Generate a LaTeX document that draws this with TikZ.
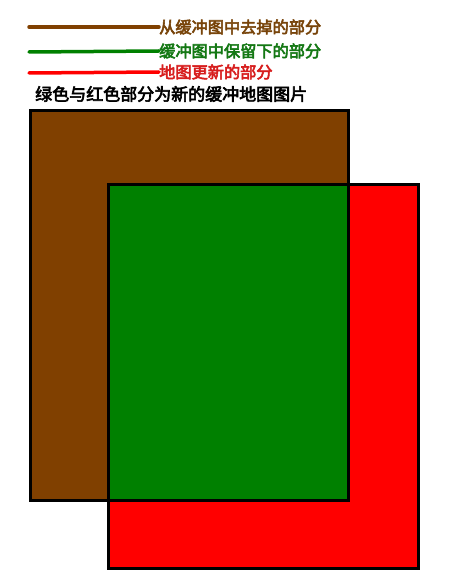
\documentclass[tikz,border=0pt]{standalone}
\usepackage{fontspec}
\newfontfamily\cjk[AutoFakeBold=3.5]{Noto Sans CJK SC}
\usetikzlibrary{positioning}
\definecolor{cutbrown}{RGB}{128,64,0}
\definecolor{keepgreen}{RGB}{0,128,0}
\definecolor{newred}{RGB}{255,0,0}
\definecolor{cuttext}{RGB}{120,68,10}
\definecolor{keeptext}{RGB}{20,120,20}
\definecolor{newtext}{RGB}{215,30,30}

\begin{document}
\begin{tikzpicture}[
  x=1pt, y=-1pt,
  legline/.style={line width=3.5pt, line cap=round},
  legtext/.style={anchor=west, inner sep=0pt, font=\cjk\bfseries\fontsize{16.2}{18}\selectfont},
  frame/.style={line width=3pt, line join=miter},
  ]
  \useasboundingbox (0,0) rectangle (468,588);

  % legend
  \node (cuttxt) [legtext, text=cuttext] at (159,27) {从缓冲图中去掉的部分};
  \node (keeptxt) [legtext, text=keeptext] at (159,51) {缓冲图中保留下的部分};
  \node (newtxt) [legtext, text=newtext] at (159,72) {地图更新的部分};
  \node (note) [legtext, text=black, font=\cjk\bfseries\fontsize{17}{20}\selectfont] at (35,94) {绿色与红色部分为新的缓冲地图图片};

  \coordinate (cutstart) at (29,27);
  \coordinate (keepstart) at (29,52);
  \coordinate (newstart) at (29,73);
  \draw[legline, cutbrown] (cutstart) -- (cuttxt.west);
  \draw[legline, keepgreen] (keepstart) -- (keeptxt.west);
  \draw[legline, newred] (newstart) -- (newtxt.west);

  % old buffer, map update and the kept part
  \fill[cutbrown] (30,111) rectangle (348,500);
  \fill[newred] (108,184) rectangle (418,568);
  \fill[keepgreen] (108,184) rectangle (348,500);
  \draw[frame] (30,111) rectangle (348,500);
  \draw[frame] (108,184) rectangle (418,568);

\end{tikzpicture}
\end{document}
